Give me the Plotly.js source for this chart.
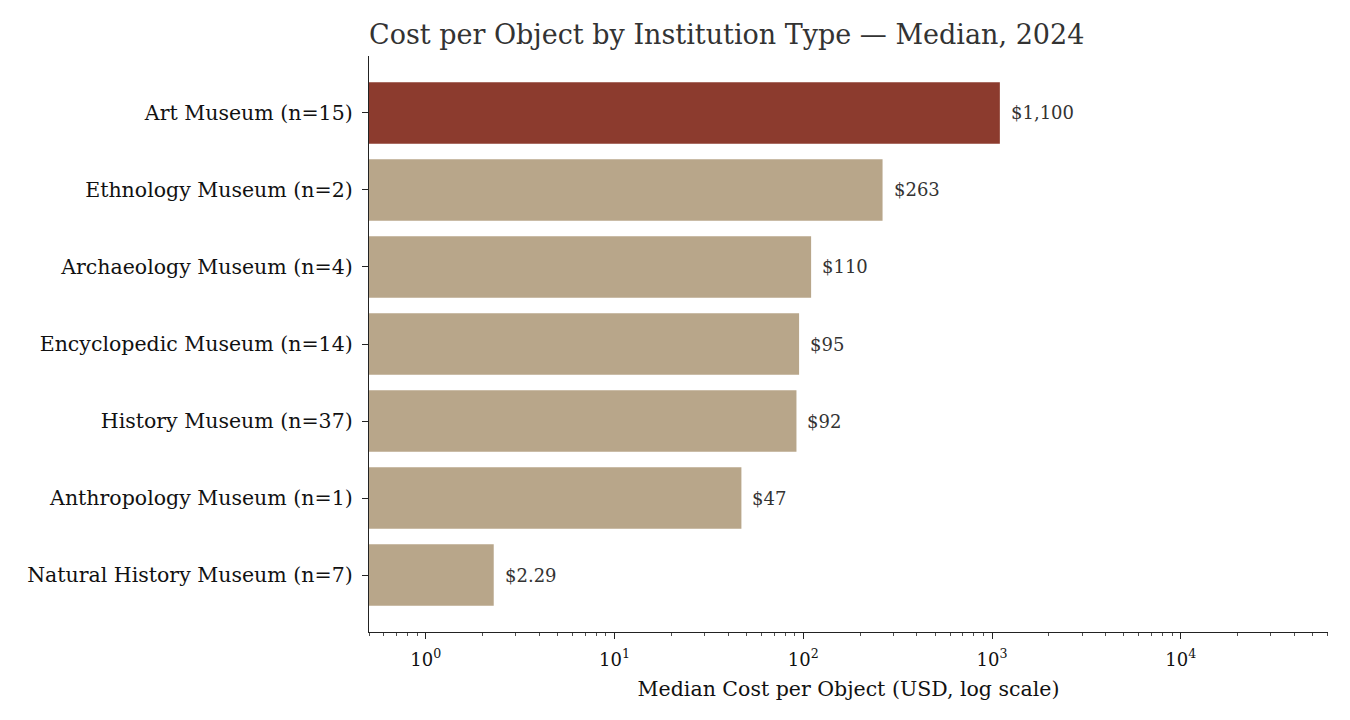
<!DOCTYPE html>
<html>
<head>
<meta charset="utf-8">
<script src="https://cdn.plot.ly/plotly-3.0.1.min.js"></script>
<style>html,body{margin:0;padding:0;background:#fff;}#chart{width:1350px;height:720px;}</style>
</head>
<body>
<div id="chart"></div>
<script>
const categories = [
  "Natural History Museum (n=7)",
  "Anthropology Museum (n=1)",
  "History Museum (n=37)",
  "Encyclopedic Museum (n=14)",
  "Archaeology Museum (n=4)",
  "Ethnology Museum (n=2)",
  "Art Museum (n=15)"
];
const medianCost = [2.29, 47, 92, 95, 110, 263, 1100];
const highlight = "Art Museum (n=15)";
const tickValues = [1, 10, 100, 1000, 10000];
const tickLabels = ["10<sup>0</sup>", "10<sup>1</sup>", "10<sup>2</sup>", "10<sup>3</sup>", "10<sup>4</sup>"];

const fmt = v => v >= 10 ? "$" + Math.round(v).toLocaleString("en-US") : "$" + v.toFixed(2);
const colors = categories.map(c => c === highlight ? "#8c3b2e" : "#b8a68a");

const font = "DejaVu Serif, serif";

const trace = {
  type: "bar",
  orientation: "h",
  y: categories,
  x: medianCost,
  width: 0.8,
  marker: {color: colors, line: {width: 0}},
  hoverinfo: "x+y"
};

const annotations = categories.map((c, i) => ({
  x: Math.log10(medianCost[i]),
  y: c,
  xref: "x", yref: "y",
  text: fmt(medianCost[i]),
  showarrow: false,
  xanchor: "left",
  xshift: 9,
  font: {family: font, size: 18, color: "#333"}
}));

const layout = {
  width: 1350, height: 720,
  margin: {l: 369, r: 22, t: 56, b: 88},
  paper_bgcolor: "#fff", plot_bgcolor: "#fff",
  font: {family: font, color: "#111"},
  showlegend: false,
  bargap: 0.2,
  title: {
    text: "Cost per Object by Institution Type — Median, 2024",
    font: {family: font, size: 27, color: "#333"},
    xref: "paper", x: 0, xanchor: "left",
    yref: "container", y: 1 - 35/720, yanchor: "middle"
  },
  xaxis: {
    type: "log",
    range: [Math.log10(0.5), 4.78],
    tickvals: tickValues,
    ticktext: tickLabels,
    ticks: "outside", ticklen: 6, tickwidth: 1, tickcolor: "#222",
    minor: {ticks: "outside", ticklen: 3, tickwidth: 0.8, tickcolor: "#222", dtick: "D1", showgrid: false},
    showgrid: false, zeroline: false,
    showline: true, linecolor: "#222", linewidth: 1.2,
    tickfont: {family: font, size: 18, color: "#111"},
    ticklabelstandoff: 5,
    title: {text: "Median Cost per Object (USD, log scale)", font: {family: font, size: 20.5, color: "#111"}, standoff: 12}
  },
  yaxis: {
    type: "category",
    range: [-0.74, 6.74],
    ticks: "outside", ticklen: 6, tickwidth: 1, tickcolor: "#222",
    showgrid: false, zeroline: false,
    showline: true, linecolor: "#222", linewidth: 1.2,
    tickfont: {family: font, size: 20.5, color: "#111"},
    ticklabelstandoff: 5
  },
  annotations: annotations
};

Plotly.newPlot("chart", [trace], layout, {displayModeBar: false, staticPlot: true});
</script>
</body>
</html>
